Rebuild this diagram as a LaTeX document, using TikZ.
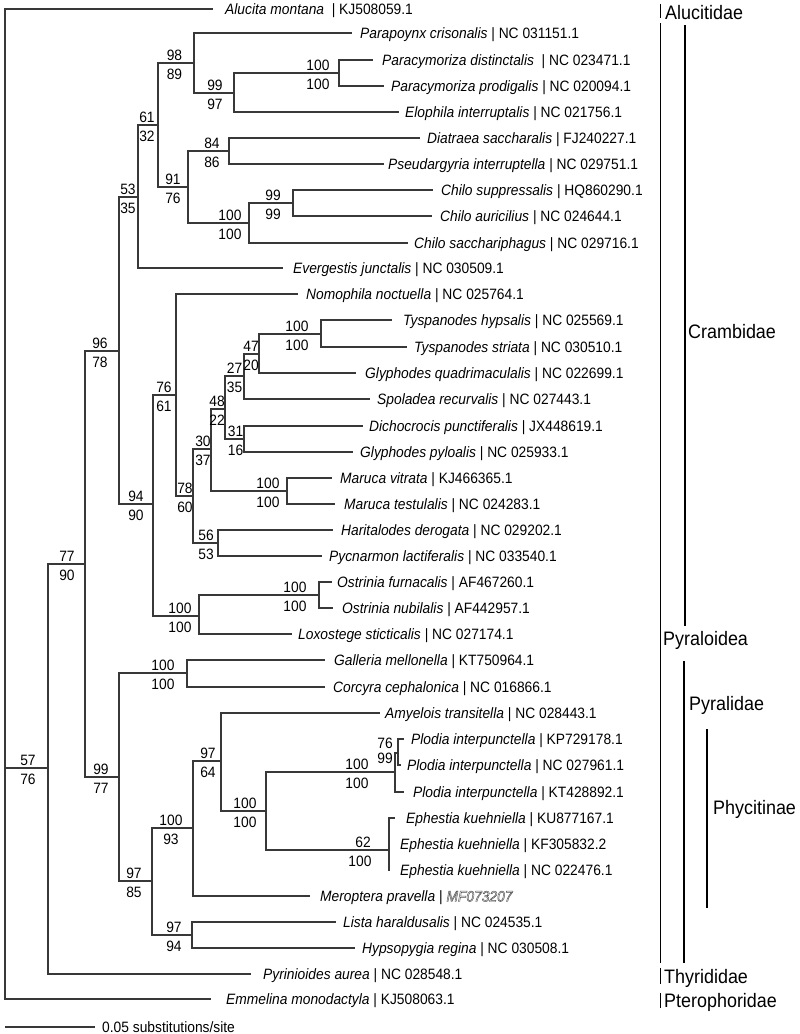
\documentclass[tikz,border=0pt]{standalone}
\usepackage{fontspec}
\setmainfont{Liberation Sans}[FakeStretch=0.92]
\newcommand\spac[2]{\textit{#1} | #2}
\newcommand\hollow[1]{\special{pdf:literal direct 1 Tr 0.45 w 0.3 G}#1\special{pdf:literal direct 0 Tr 0 G}}
\newcommand\leafnode[5]{\coordinate (#1) at (#2,#3); \node[lf] (t#1) at (#4,#3+5.5) {#5};}
\newcommand\bsv[5]{\node[bsl] (#1a) at (#2,#3-3) {#4}; \node[bsl] (#1b) at (#2,#3+16) {#5};}
\tikzset{
 br/.style={draw=black!78, line width=1.1pt},
 lf/.style={anchor=base west, inner sep=0pt, font=\fontsize{15}{16}\selectfont},
 bsl/.style={anchor=base, inner sep=0pt, font=\fontsize{15}{16}\selectfont},
 grp/.style={anchor=base west, inner sep=0pt, font=\fontsize{19.5}{20}\selectfont},
 gbar/.style={draw=black, line width=1.5pt},
}
\begin{document}
\begin{tikzpicture}[x=1pt,y=-1pt]
\useasboundingbox (0,0) rectangle (800,1034);
% leaves
\leafnode{L1}{213}{9}{225}{\textit{Alucita montana}\ \ | KJ508059.1}
\leafnode{L2}{352}{33}{360}{\spac{Parapoynx crisonalis}{NC 031151.1}}
\leafnode{L3}{373}{60}{382}{\textit{Paracymoriza distinctalis}\ \ | NC 023471.1}
\leafnode{L4}{384}{86}{391}{\spac{Paracymoriza prodigalis}{NC 020094.1}}
\leafnode{L5}{399}{112}{405}{\spac{Elophila interruptalis}{NC 021756.1}}
\leafnode{L6}{420}{138}{427}{\spac{Diatraea saccharalis}{FJ240227.1}}
\leafnode{L7}{384}{164}{388}{\spac{Pseudargyria interruptella}{NC 029751.1}}
\leafnode{L8}{433}{190}{441}{\spac{Chilo suppressalis}{HQ860290.1}}
\leafnode{L9}{432}{216}{440}{\spac{Chilo auricilius}{NC 024644.1}}
\leafnode{L10}{408}{243}{414}{\spac{Chilo sacchariphagus}{NC 029716.1}}
\leafnode{L11}{283}{268}{293}{\spac{Evergestis junctalis}{NC 030509.1}}
\leafnode{L12}{298}{294}{306}{\spac{Nomophila noctuella}{NC 025764.1}}
\leafnode{L13}{392}{320}{403}{\spac{Tyspanodes hypsalis}{NC 025569.1}}
\leafnode{L14}{407}{347}{414}{\spac{Tyspanodes striata}{NC 030510.1}}
\leafnode{L15}{356}{373}{365}{\spac{Glyphodes quadrimaculalis}{NC 022699.1}}
\leafnode{L16}{370}{399}{377}{\spac{Spoladea recurvalis}{NC 027443.1}}
\leafnode{L17}{363}{426}{369}{\spac{Dichocrocis punctiferalis}{JX448619.1}}
\leafnode{L18}{353}{452}{360}{\spac{Glyphodes pyloalis}{NC 025933.1}}
\leafnode{L19}{332}{478}{340}{\spac{Maruca vitrata}{KJ466365.1}}
\leafnode{L20}{335}{504}{344}{\spac{Maruca testulalis}{NC 024283.1}}
\leafnode{L21}{333}{530}{341}{\spac{Haritalodes derogata}{NC 029202.1}}
\leafnode{L22}{322}{556}{329}{\spac{Pycnarmon lactiferalis}{NC 033540.1}}
\leafnode{L23}{332}{582}{337}{\spac{Ostrinia furnacalis}{AF467260.1}}
\leafnode{L24}{333}{608}{342}{\spac{Ostrinia nubilalis}{AF442957.1}}
\leafnode{L25}{292}{634}{298}{\spac{Loxostege sticticalis}{NC 027174.1}}
\leafnode{L26}{325}{660}{334}{\spac{Galleria mellonella}{KT750964.1}}
\leafnode{L27}{325}{687}{333}{\spac{Corcyra cephalonica}{NC 016866.1}}
\leafnode{L28}{380}{713}{385}{\spac{Amyelois transitella}{NC 028443.1}}
\leafnode{L29}{404}{739}{411}{\spac{Plodia interpunctella}{KP729178.1}}
\leafnode{L30}{401}{765}{407}{\spac{Plodia interpunctella}{NC 027961.1}}
\leafnode{L31}{404}{792}{413}{\spac{Plodia interpunctella}{KT428892.1}}
\leafnode{L32}{395}{818}{406}{\spac{Ephestia kuehniella}{KU877167.1}}
\leafnode{L33}{390}{844}{400}{\spac{Ephestia kuehniella}{KF305832.2}}
\leafnode{L34}{390}{870}{400}{\spac{Ephestia kuehniella}{NC 022476.1}}
\leafnode{L36}{336}{922}{343}{\spac{Lista haraldusalis}{NC 024535.1}}
\leafnode{L37}{355}{948}{362}{\spac{Hypsopygia regina}{NC 030508.1}}
\leafnode{L38}{251}{974}{263}{\spac{Pyrinioides aurea}{NC 028548.1}}
\leafnode{L39}{211}{999}{226}{\spac{Emmelina monodactyla}{KJ508063.1}}
\coordinate (L35) at (310,896);
% internal nodes
\coordinate (root) at (5,768);
\coordinate (nA) at (48,768);
\coordinate (nB) at (85,564);
\coordinate (nC) at (119,351);
\coordinate (nD) at (138,197);
\coordinate (nE) at (158,125);
\coordinate (nF) at (194,63);
\coordinate (nG) at (234,93);
\coordinate (nH) at (339,73);
\coordinate (nI) at (188,187);
\coordinate (nJ) at (229,151);
\coordinate (nK) at (249,223);
\coordinate (nL) at (293,203);
\coordinate (nM) at (153,504);
\coordinate (nN) at (176,395);
\coordinate (nO) at (193,496);
\coordinate (nP) at (211,449);
\coordinate (nQ) at (225,409);
\coordinate (nR) at (244,376);
\coordinate (nS) at (259,354);
\coordinate (nT) at (321,334);
\coordinate (nU) at (244,439);
\coordinate (nV) at (287,491);
\coordinate (nW) at (218,543);
\coordinate (nX) at (199,616);
\coordinate (nY) at (319,595);
\coordinate (nAA) at (119,777);
\coordinate (nAB) at (187,673);
\coordinate (nAC) at (152,881);
\coordinate (nAD) at (193,828);
\coordinate (nAE) at (221,761);
\coordinate (nAF) at (266,811);
\coordinate (nAG) at (395,772);
\coordinate (nAH) at (398,753);
\coordinate (nAJ) at (389,850);
\coordinate (nAK) at (192,935);
% branches
\draw[br] (root) |- (L1) (root) |- (nA) (root) |- (L39);
\draw[br] (nA) |- (nB) (nA) |- (L38);
\draw[br] (nB) |- (nC) (nB) |- (nAA);
\draw[br] (nC) |- (nD) (nC) |- (nM);
\draw[br] (nD) |- (nE) (nD) |- (L11);
\draw[br] (nE) |- (nF) (nE) |- (nI);
\draw[br] (nF) |- (L2) (nF) |- (nG);
\draw[br] (nG) |- (nH) (nG) |- (L5);
\draw[br] (nH) |- (L3) (nH) |- (L4);
\draw[br] (nI) |- (nJ) (nI) |- (nK);
\draw[br] (nJ) |- (L6) (nJ) |- (L7);
\draw[br] (nK) |- (nL) (nK) |- (L10);
\draw[br] (nL) |- (L8) (nL) |- (L9);
\draw[br] (nM) |- (nN) (nM) |- (nX);
\draw[br] (nN) |- (L12) (nN) |- (nO);
\draw[br] (nO) |- (nP) (nO) |- (nW);
\draw[br] (nP) |- (nQ) (nP) |- (nV);
\draw[br] (nQ) |- (nR) (nQ) |- (nU);
\draw[br] (nR) |- (nS) (nR) |- (L16);
\draw[br] (nS) |- (nT) (nS) |- (L15);
\draw[br] (nT) |- (L13) (nT) |- (L14);
\draw[br] (nU) |- (L17) (nU) |- (L18);
\draw[br] (nV) |- (L19) (nV) |- (L20);
\draw[br] (nW) |- (L21) (nW) |- (L22);
\draw[br] (nX) |- (nY) (nX) |- (L25);
\draw[br] (nY) |- (L23) (nY) |- (L24);
\draw[br] (nAA) |- (nAB) (nAA) |- (nAC);
\draw[br] (nAB) |- (L26) (nAB) |- (L27);
\draw[br] (nAC) |- (nAD) (nAC) |- (nAK);
\draw[br] (nAD) |- (nAE) (nAD) |- (L35);
\draw[br] (nAE) |- (L28) (nAE) |- (nAF);
\draw[br] (nAF) |- (nAG) (nAF) |- (nAJ);
\draw[br] (nAG) |- (nAH) (nAG) |- (L31);
\draw[br] (nAH) |- (L29) (nAH) |- (L30);
\draw[br] (nAJ) |- (L32) (nAJ) |- (L33) (nAJ) |- (L34);
\draw[br] (nAK) |- (L36) (nAK) |- (L37);
% support values
\bsv{bA}{28}{768}{57}{76}
\bsv{bB}{67}{564}{77}{90}
\bsv{bC}{100}{351}{96}{78}
\bsv{bD}{128}{197}{53}{35}
\bsv{bE}{147}{125}{61}{32}
\bsv{bF}{174.5}{63}{98}{89}
\bsv{bG}{215}{93}{99}{97}
\bsv{bH}{318}{73}{100}{100}
\bsv{bI}{173}{187}{91}{76}
\bsv{bJ}{212}{151}{84}{86}
\bsv{bK}{230}{223}{100}{100}
\bsv{bL}{273}{203}{99}{99}
\bsv{bM}{136}{504}{94}{90}
\bsv{bN}{164}{395}{76}{61}
\bsv{bO}{185}{496}{78}{60}
\bsv{bP}{203}{449}{30}{37}
\bsv{bQ}{217}{409}{48}{22}
\bsv{bR}{234.5}{376}{27}{35}
\bsv{bS}{251}{354}{47}{20}
\bsv{bT}{297}{334}{100}{100}
\bsv{bU}{235.5}{439}{31}{16}
\bsv{bV}{268}{491}{100}{100}
\bsv{bW}{206}{543}{56}{53}
\bsv{bX}{180}{616}{100}{100}
\bsv{bY}{295}{595}{100}{100}
\bsv{bAA}{101}{777}{99}{77}
\bsv{bAB}{163}{673}{100}{100}
\bsv{bAC}{134}{881}{97}{85}
\bsv{bAD}{171}{828}{100}{93}
\bsv{bAE}{208}{761}{97}{64}
\bsv{bAF}{245}{811}{100}{100}
\bsv{bAG}{357}{772}{100}{100}
\node[bsl] (bAHa) at (385,748) {76};
\node[bsl] (bAHb) at (385,763) {99};
\node[bsl] (bAJa) at (363,847) {62};
\node[bsl] (bAJb) at (360,866) {100};
\bsv{bAK}{174}{935}{97}{94}
% scale bar
\coordinate (s1) at (5,1027);
\coordinate (s2) at (95,1027);
\draw[br] (s1) -- (s2);
\node[lf] (stext) at (102,1032) {0.05 substitutions/site};
% group bars
\coordinate (g1a) at (660.5,4); \coordinate (g1b) at (660.5,18);
\coordinate (g2a) at (660.5,23); \coordinate (g2b) at (660.5,963);
\coordinate (g3a) at (685,25); \coordinate (g3b) at (685,626);
\coordinate (g4a) at (684,661); \coordinate (g4b) at (684,963);
\coordinate (g5a) at (707,729); \coordinate (g5b) at (707,908);
\coordinate (g6a) at (660.5,968); \coordinate (g6b) at (660.5,984);
\coordinate (g7a) at (660.5,993); \coordinate (g7b) at (660.5,1008);
\draw[gbar] (g1a) -- (g1b);
\draw[gbar] (g2a) -- (g2b);
\draw[gbar] (g3a) -- (g3b);
\draw[gbar] (g4a) -- (g4b);
\draw[gbar] (g5a) -- (g5b);
\draw[gbar] (g6a) -- (g6b);
\draw[gbar] (g7a) -- (g7b);
\node[grp] (gAlu) at (665,19.5) {Alucitidae};
\node[grp] (gCra) at (688,338) {Crambidae};
\node[grp] (gPyo) at (663,645) {Pyraloidea};
\node[grp] (gPyr) at (689,710) {Pyralidae};
\node[grp] (gPhy) at (713,814) {Phycitinae};
\node[grp] (gThy) at (664,983) {Thyrididae};
\node[grp] (gPte) at (664,1007) {Pterophoridae};
% leaf with outlined accession (last, so its text state does not leak)
\node[lf] (tL35) at (320,901.5) {\textit{Meroptera pravella} | \textit{\hollow{MF073207}}};
\end{tikzpicture}
\end{document}
